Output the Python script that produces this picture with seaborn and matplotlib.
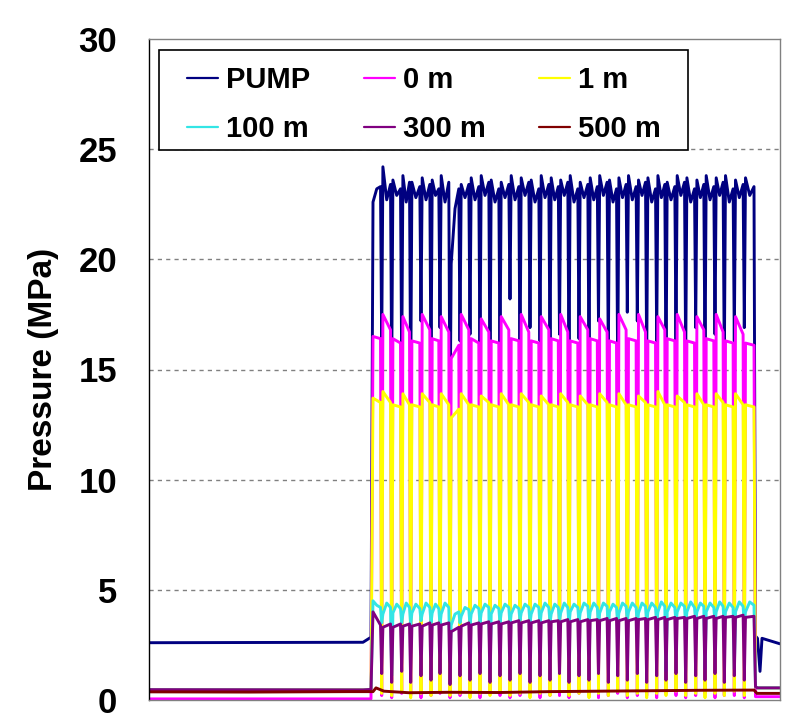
import numpy as np
import pandas as pd
import matplotlib
matplotlib.use('Agg')
import matplotlib.pyplot as plt
from matplotlib.patches import Rectangle
import seaborn as sns

# time axis (arbitrary s), pumping starts / stops
t_start = 224
t_stop = 605
t_dip = [232.7, 242.7, 252.7, 261.7, 272, 282, 291, 301, 311, 321, 331, 341, 351,
         361, 371, 381, 391, 401, 410.5, 420, 430, 440, 449.5, 459.3, 468.7, 478.3,
         488.3, 497.7, 507.7, 517, 527, 536.7, 546.7, 556, 566, 575.3, 585.3, 595.3]
pre_t = [0, 214, 222]
post_t = [606.5, 608.5, 611, 613, 631]

sensors = ['PUMP', '0 m', '1 m', '100 m', '300 m', '500 m']
colors = ['#000080', '#FF00FF', '#FFFF00', '#33E5E5', '#800080', '#800000']

# PUMP
pump_pre = [2.6, 2.62, 2.85]
pump_top = [22.6, 24.2, 23.6, 23.8, 23.5, 23.7, 23.6, 23.8, 19.8, 23.4, 23.7, 23.8, 23.6,
            23.5, 23.8, 23.7, 23.6, 23.8, 23.7, 23.6, 23.8, 23.5, 23.7, 23.8, 23.6, 23.7,
            23.8, 23.6, 23.7, 23.8, 23.5, 23.8, 23.7, 23.6, 23.8, 23.7, 23.8, 23.6, 23.7]
pump_mid = [23.2, 22.7, 22.9, 22.6, 22.8, 22.7, 22.9, 22.6, 22.3, 22.8, 22.7, 22.9, 22.6,
            22.8, 22.7, 22.9, 22.6, 22.8, 22.7, 22.9, 22.6, 22.8, 22.7, 22.9, 22.6, 22.8,
            22.7, 22.9, 22.6, 22.8, 22.7, 22.9, 22.6, 22.8, 22.7, 22.9, 22.6, 22.8, 22.9]
pump_end = [23.3, 23.4, 23.2, 23.5, 23.3, 23.4, 23.2, 23.5, 23.2, 23.4, 23.3, 23.5, 23.2,
            23.4, 23.3, 23.5, 23.2, 23.4, 23.3, 23.5, 23.2, 23.4, 23.3, 23.5, 23.2, 23.4,
            23.3, 23.5, 23.2, 23.4, 23.3, 23.5, 23.2, 23.4, 23.3, 23.5, 23.2, 23.4, 23.3]
pump_low = [16.0, 14.8, 15.1, 13.9, 17.2, 14.5, 16.9, 12.0, 16.3, 16.6, 15.4, 14.3, 15.4,
            18.2, 15.1, 16.9, 16.3, 15.7, 16.6, 14.9, 16.4, 15.1, 17.2, 15.5, 14.8, 17.6,
            17.2, 15.4, 16.3, 14.5, 16.3, 15.4, 16.9, 15.1, 16.6, 15.1, 16.3, 16.9]
pump_post = [2.9, 2.8, 1.3, 2.8, 2.55]

# 0 m
m0_pre = [0.05, 0.05, 0.05]
m0_top = [16.5, 17.5, 16.4, 17.4, 16.3, 17.5, 16.4, 17.4, 15.5, 17.5, 16.4, 17.3, 16.3,
          17.4, 16.4, 17.5, 16.3, 17.4, 16.4, 17.5, 16.3, 17.4, 16.4, 17.3, 16.3, 17.5,
          16.4, 17.5, 16.3, 17.4, 16.4, 17.5, 16.3, 17.4, 16.4, 17.5, 16.3, 17.4, 16.2]
m0_end = [16.4, 16.8, 16.2, 16.7, 16.2, 16.8, 16.3, 16.7, 16.1, 16.8, 16.2, 16.7, 16.2,
          16.8, 16.3, 16.7, 16.2, 16.8, 16.3, 16.7, 16.2, 16.8, 16.3, 16.7, 16.2, 16.8,
          16.3, 16.7, 16.2, 16.8, 16.3, 16.7, 16.2, 16.8, 16.3, 16.7, 16.2, 16.6, 16.1]
m0_low = [0.2, 0.1, 0.3, 0.2, 0.1, 0.2, 0.3, 0.1, 0.2, 0.2, 0.1, 0.3, 0.2,
          0.1, 0.2, 0.3, 0.1, 0.2, 0.2, 0.1, 0.3, 0.2, 0.1, 0.2, 0.3, 0.1,
          0.2, 0.2, 0.1, 0.3, 0.2, 0.1, 0.2, 0.3, 0.1, 0.2, 0.2, 0.1]
m0_post = [0.15, 0.15, 0.15, 0.15, 0.15]

# 1 m
y1_pre = [0.46, 0.46, 0.47]
y1_top = [13.7, 14.0, 13.4, 13.9, 13.4, 13.9, 13.4, 13.9, 12.8, 13.9, 13.4, 13.8, 13.4,
          13.9, 13.4, 13.9, 13.4, 13.8, 13.4, 13.9, 13.4, 13.8, 13.4, 13.9, 13.4, 13.9,
          13.4, 13.8, 13.4, 14.0, 13.4, 13.8, 13.4, 13.9, 13.4, 13.9, 13.4, 13.9, 13.4]
y1_end = [13.5, 13.5, 13.3, 13.4, 13.3, 13.5, 13.3, 13.4, 13.2, 13.4, 13.3, 13.5, 13.3,
          13.4, 13.3, 13.5, 13.3, 13.4, 13.3, 13.5, 13.3, 13.4, 13.3, 13.5, 13.3, 13.4,
          13.3, 13.5, 13.3, 13.4, 13.3, 13.5, 13.3, 13.4, 13.3, 13.5, 13.3, 13.4, 13.3]
y1_low = [0.3, 0.2, 0.4, 0.1, 0.3, 0.2, 0.4, 0.2, 0.3, 0.1, 0.3, 0.2, 0.4,
          0.2, 0.3, 0.1, 0.3, 0.2, 0.4, 0.2, 0.3, 0.1, 0.3, 0.2, 0.4, 0.2,
          0.3, 0.1, 0.3, 0.2, 0.4, 0.2, 0.3, 0.1, 0.3, 0.2, 0.4, 0.2]
y1_post = [0.58, 0.55, 0.55, 0.55, 0.55]

# 100 m
c100_pre = [0.46, 0.45, 0.47]
c100_top = [4.5, 3.9, 3.95, 3.9, 3.95, 3.9, 3.95, 3.9, 3.4, 3.8, 3.9, 3.95, 3.9,
            3.95, 3.9, 3.95, 3.9, 3.95, 3.9, 3.95, 4.0, 3.95, 4.0, 3.95, 4.0, 3.95,
            4.0, 3.95, 4.0, 4.0, 4.0, 4.0, 4.0, 4.0, 4.0, 4.0, 4.0, 4.0, 4.0]
c100_mid = [4.3, 4.4, 4.35, 4.4, 4.35, 4.4, 4.35, 4.4, 3.9, 4.2, 4.3, 4.35, 4.3,
            4.35, 4.3, 4.35, 4.35, 4.4, 4.35, 4.4, 4.35, 4.4, 4.4, 4.4, 4.35, 4.4,
            4.4, 4.4, 4.4, 4.45, 4.4, 4.4, 4.45, 4.4, 4.4, 4.45, 4.4, 4.45, 4.45]
c100_end = [4.2, 4.2, 4.15, 4.2, 4.15, 4.2, 4.15, 4.2, 4.0, 4.1, 4.15, 4.2, 4.15,
            4.2, 4.15, 4.2, 4.2, 4.2, 4.2, 4.2, 4.2, 4.25, 4.2, 4.25, 4.2, 4.25,
            4.2, 4.25, 4.2, 4.25, 4.2, 4.25, 4.2, 4.25, 4.2, 4.25, 4.2, 4.25, 4.3]
c100_low = [3.5, 1.1, 3.5, 3.4, 3.6, 3.5, 3.4, 2.0, 3.5, 3.4, 3.5, 1.4, 3.5,
            3.4, 3.6, 3.5, 3.4, 3.5, 3.6, 3.4, 3.5, 3.5, 3.4, 3.3, 3.5, 3.6,
            3.4, 3.5, 3.5, 1.3, 3.5, 3.4, 3.6, 1.4, 3.5, 3.4, 1.4, 3.5]
c100_post = [0.6, 0.55, 0.55, 0.55, 0.55]

# 300 m
p300_pre = [0.47, 0.46, 0.48]
p300_top = [4.0, 3.3, 3.3, 3.35, 3.35, 3.35, 3.4, 3.4, 3.1, 3.35, 3.4, 3.45, 3.45,
            3.45, 3.5, 3.5, 3.5, 3.5, 3.55, 3.55, 3.55, 3.55, 3.6, 3.6, 3.6, 3.6,
            3.6, 3.65, 3.65, 3.65, 3.65, 3.7, 3.7, 3.7, 3.7, 3.7, 3.75, 3.75, 3.75]
p300_end = [3.4, 3.45, 3.45, 3.45, 3.45, 3.5, 3.5, 3.5, 3.3, 3.5, 3.5, 3.55, 3.55,
            3.55, 3.6, 3.6, 3.6, 3.6, 3.6, 3.65, 3.65, 3.65, 3.65, 3.7, 3.7, 3.7,
            3.7, 3.7, 3.75, 3.75, 3.75, 3.75, 3.8, 3.8, 3.8, 3.8, 3.8, 3.85, 3.8]
p300_low = [1.2, 0.8, 1.3, 0.8, 1.1, 0.9, 1.2, 0.7, 1.1, 0.9, 1.2, 0.8, 1.1,
            0.9, 1.2, 0.8, 1.1, 0.9, 1.2, 0.8, 1.1, 0.9, 1.2, 0.8, 1.1, 0.9,
            1.2, 0.8, 1.1, 0.9, 1.2, 0.8, 1.1, 0.9, 1.2, 0.8, 1.1, 0.9]
p300_post = [0.6, 0.55, 0.55, 0.55, 0.55]

# 500 m (no visible pulsing)
b500_t = [0, 100, 200, 224, 227, 235, 260, 300, 350, 400, 450, 500, 550, 605, 608, 631]
b500_v = [0.37, 0.36, 0.38, 0.38, 0.55, 0.4, 0.33, 0.35, 0.34, 0.38, 0.4, 0.42, 0.44, 0.45, 0.3, 0.3]


def trace(pre, top, end, low, post, mid=None):
    # vertices of one pulsed record: pre-level, cycles (rise/plateau/dip), post-level
    t = list(pre_t)
    v = list(pre)
    half = 1.2
    for i in range(len(top)):
        s = t_start if i == 0 else t_dip[i - 1] + half
        e = t_dip[i] - half if i < len(t_dip) else t_stop
        t.append(s); v.append(top[i])
        if mid is not None:
            t.append((s + e) / 2); v.append(mid[i])
        t.append(e); v.append(end[i])
        if i < len(t_dip):
            t.append(t_dip[i]); v.append(low[i])
    t += post_t
    v += post
    return t, v


series = {
    'PUMP': trace(pump_pre, pump_top, pump_end, pump_low, pump_post, pump_mid),
    '0 m': trace(m0_pre, m0_top, m0_end, m0_low, m0_post),
    '1 m': trace(y1_pre, y1_top, y1_end, y1_low, y1_post),
    '100 m': trace(c100_pre, c100_top, c100_end, c100_low, c100_post, c100_mid),
    '300 m': trace(p300_pre, p300_top, p300_end, p300_low, p300_post),
    '500 m': (b500_t, b500_v),
}

rows = []
for name in sensors:
    t, v = series[name]
    rows.append(pd.DataFrame({'t': t, 'pressure': v, 'sensor': name}))
df = pd.concat(rows, ignore_index=True)

sns.set_theme(style='white')
plt.rcParams['font.family'] = ['Liberation Sans', 'DejaVu Sans']
plt.rcParams['text.color'] = 'black'
plt.rcParams['axes.labelcolor'] = 'black'
plt.rcParams['ytick.color'] = 'black'

fig = plt.figure(figsize=(8.1, 7.27), dpi=100)
ax = fig.add_axes([149 / 810, 27 / 727, 631 / 810, 661 / 727])

sns.lineplot(data=df, x='t', y='pressure', hue='sensor', hue_order=sensors,
             palette=dict(zip(sensors, colors)), estimator=None, sort=False,
             lw=2.1, legend=False, ax=ax)

ax.set_xlim(0, 631)
ax.set_ylim(0, 30)
ax.set_xticks([])
ax.set_yticks(range(0, 31, 5))
ax.set_xlabel('')
ax.set_ylabel('Pressure (MPa)', fontsize=24, fontweight='bold')
ax.yaxis.set_label_coords(-0.142, 0.5)
ax.tick_params(axis='y', length=0, pad=23, labelsize=25, labelcolor='black')
for lab in ax.get_yticklabels():
    lab.set_fontweight('bold')

for y in range(5, 30, 5):
    ax.axhline(y, color='#808080', lw=1, ls=(0, (3, 3)), zorder=0)

ax.spines['left'].set_color('black')
for s in ['top', 'right', 'bottom']:
    ax.spines[s].set_color('#808080')
for s in ax.spines.values():
    s.set_linewidth(1)

# legend box drawn separately so the inner padding can match
ax.add_patch(Rectangle((10 / 631, 550 / 661), 529 / 631, 100 / 661,
                       transform=ax.transAxes, facecolor='white', edgecolor='black',
                       lw=1.2, zorder=5))
lines = ax.get_lines()[:6]
order = [0, 3, 1, 4, 2, 5]
leg = ax.legend([lines[i] for i in order], [sensors[i] for i in order],
                ncol=3, loc='upper left', bbox_to_anchor=(38 / 631, 634 / 661),
                borderaxespad=0, borderpad=0, frameon=False,
                prop={'weight': 'bold', 'size': 21}, handlelength=1.06,
                handletextpad=0.27, columnspacing=1.85, labelspacing=0.72)
for h in leg.get_lines():
    h.set_linewidth(1.6)
leg.set_zorder(6)

fig.savefig('out.png', dpi=100)
